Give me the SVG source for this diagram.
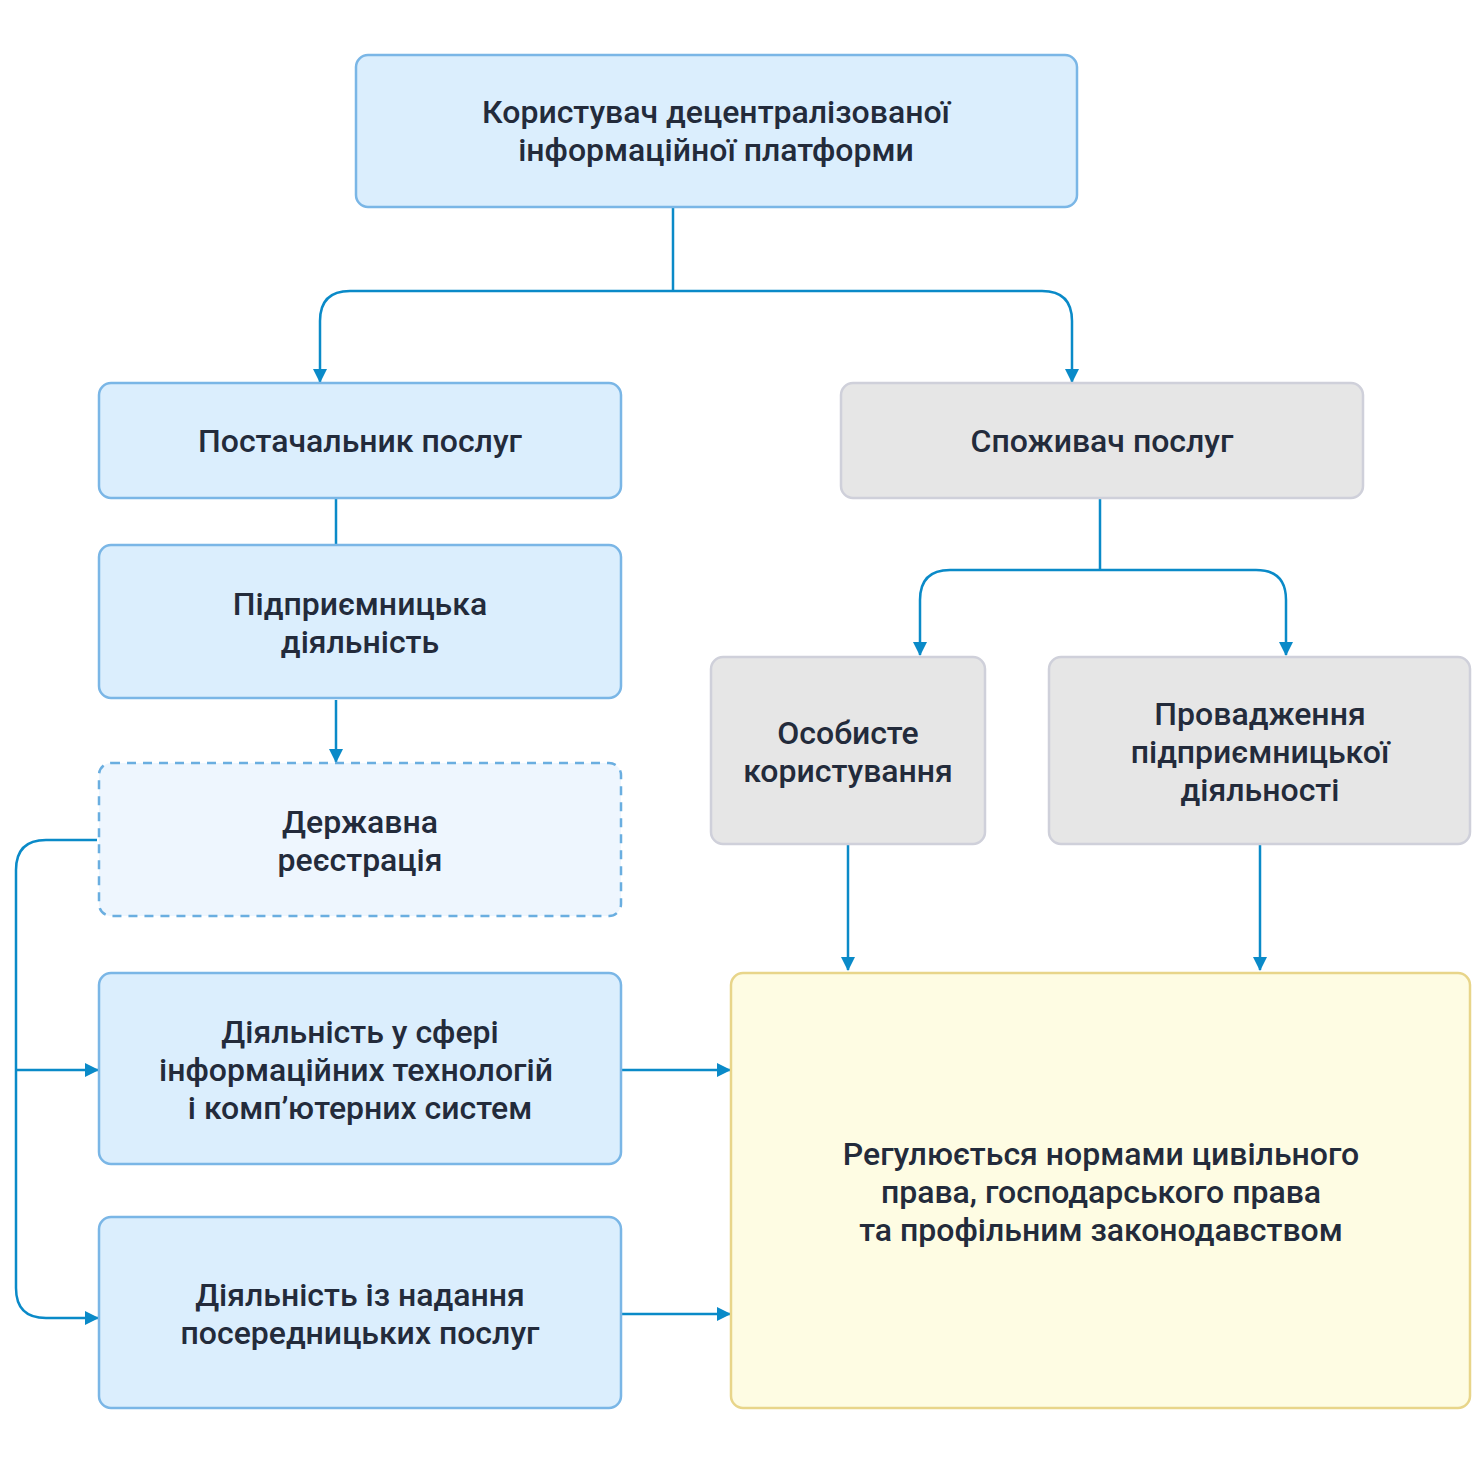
<svg xmlns="http://www.w3.org/2000/svg" width="1472" height="1484" viewBox="0 0 1472 1484">
<defs>
<style>
.blue{fill:#dbeefd;stroke:#7ab6e6;stroke-width:2.5}
.gray{fill:#e6e6e6;stroke:#cfd0da;stroke-width:2.5}
.dash{fill:#eef6fe;stroke:#6aaee0;stroke-width:2.5;stroke-dasharray:9 7}
.yellow{fill:#fefce3;stroke:#e8d58a;stroke-width:2.5}
text{font-family:Roboto,"Noto Sans",sans-serif;font-weight:500;font-size:32px;fill:#232b3b;text-anchor:middle}
.c{fill:none;stroke:#0a8ac8;stroke-width:2.5}
</style>
<marker id="ah" markerWidth="14" markerHeight="14" refX="13" refY="7" orient="auto" markerUnits="userSpaceOnUse">
<path d="M0,0 L14,7 L0,14 Z" fill="#0a8ac8"/>
</marker>
</defs>
<rect width="1472" height="1484" fill="#ffffff"/>
<g id="connectors">
<path class="c" d="M673,207 V291"/>
<path class="c" d="M673,291 H350 Q320,291 320,321 V382" marker-end="url(#ah)"/>
<path class="c" d="M673,291 H1042 Q1072,291 1072,321 V382" marker-end="url(#ah)"/>
<path class="c" d="M336,498 V545"/>
<path class="c" d="M336,700 V762" marker-end="url(#ah)"/>
<path class="c" d="M97,840 H46 Q16,840 16,870 V1288 Q16,1318 46,1318 H98" marker-end="url(#ah)"/>
<path class="c" d="M16,1070 H98" marker-end="url(#ah)"/>
<path class="c" d="M622,1070 H730" marker-end="url(#ah)"/>
<path class="c" d="M622,1314 H730" marker-end="url(#ah)"/>
<path class="c" d="M1100,498 V570"/>
<path class="c" d="M1100,570 H950 Q920,570 920,600 V655" marker-end="url(#ah)"/>
<path class="c" d="M1100,570 H1256 Q1286,570 1286,600 V655" marker-end="url(#ah)"/>
<path class="c" d="M848,845 V970" marker-end="url(#ah)"/>
<path class="c" d="M1260,845 V970" marker-end="url(#ah)"/>
</g>
<g id="n-user">
<rect class="blue" x="356" y="55" width="721" height="152" rx="12"/>
<text x="716" y="123">Користувач децентралізованої</text>
<text x="716" y="161">інформаційної платформи</text>
</g>
<g id="n-provider">
<rect class="blue" x="99" y="383" width="522" height="115" rx="12"/>
<text x="360" y="452">Постачальник послуг</text>
</g>
<g id="n-consumer">
<rect class="gray" x="841" y="383" width="522" height="115" rx="12"/>
<text x="1102" y="452">Споживач послуг</text>
</g>
<g id="n-business">
<rect class="blue" x="99" y="545" width="522" height="153" rx="12"/>
<text x="360" y="615">Підприємницька</text>
<text x="360" y="653">діяльність</text>
</g>
<g id="n-registration">
<rect class="dash" x="99" y="763" width="522" height="153" rx="12"/>
<text x="360" y="833">Державна</text>
<text x="360" y="871">реєстрація</text>
</g>
<g id="n-it">
<rect class="blue" x="99" y="973" width="522" height="191" rx="12"/>
<text x="360" y="1043">Діяльність у сфері</text>
<text x="356" y="1081">інформаційних технологій</text>
<text x="360" y="1119">і комп’ютерних систем</text>
</g>
<g id="n-intermediary">
<rect class="blue" x="99" y="1217" width="522" height="191" rx="12"/>
<text x="360" y="1306">Діяльність із надання</text>
<text x="360" y="1344">посередницьких послуг</text>
</g>
<g id="n-personal">
<rect class="gray" x="711" y="657" width="274" height="187" rx="12"/>
<text x="848" y="744">Особисте</text>
<text x="848" y="782">користування</text>
</g>
<g id="n-conduct">
<rect class="gray" x="1049" y="657" width="421" height="187" rx="12"/>
<text x="1260" y="725">Провадження</text>
<text x="1260" y="763">підприємницької</text>
<text x="1260" y="801">діяльності</text>
</g>
<g id="n-regulated">
<rect class="yellow" x="731" y="973" width="739" height="435" rx="12"/>
<text x="1101" y="1165">Регулюється нормами цивільного</text>
<text x="1101" y="1203">права, господарського права</text>
<text x="1101" y="1241">та профільним законодавством</text>
</g>
</svg>
